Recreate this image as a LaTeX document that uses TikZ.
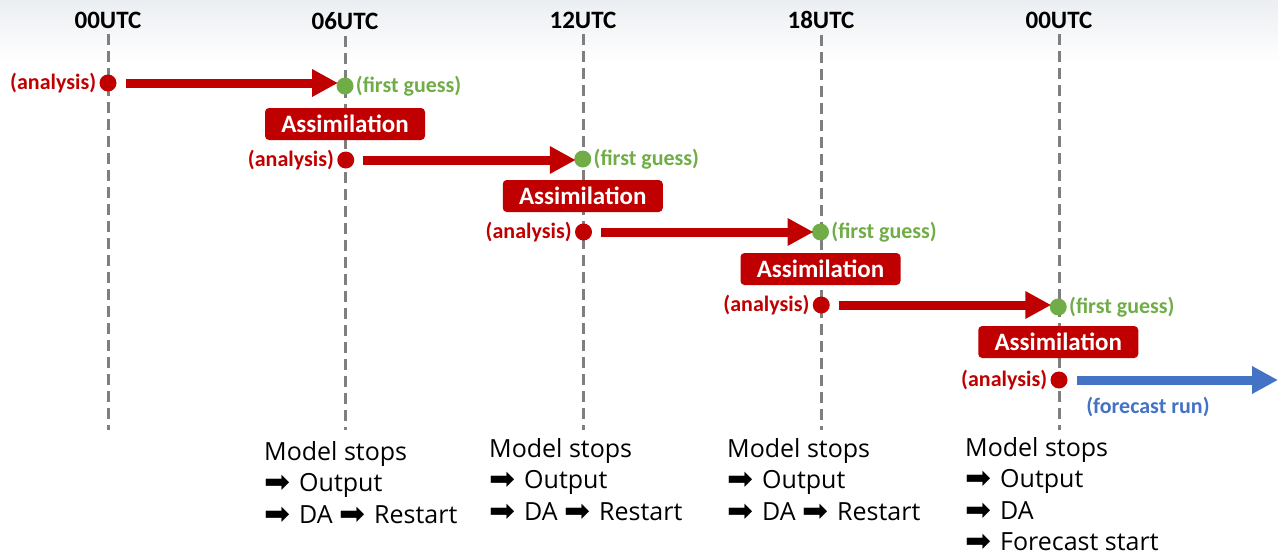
\documentclass[tikz,border=0pt]{standalone}
\usepackage{fontspec}
\setmainfont{Carlito}
\newfontfamily\notefont{Open Sans}
\newfontfamily\symfont{DejaVu Sans}
\usetikzlibrary{arrows.meta,positioning}

\definecolor{anared}{HTML}{C00000}
\definecolor{fggreen}{HTML}{70AD47}
\definecolor{fcblue}{HTML}{4472C4}
\definecolor{linegray}{HTML}{7F7F7F}
\definecolor{topshade}{HTML}{EBEEF2}

\newcommand{\thenarrow}{\raisebox{-1pt}{\symfont\fontsize{31}{31}\selectfont\char"27A1}\hspace{9pt}}

\begin{document}
\begin{tikzpicture}[x=1pt,y=-1pt,
    timeline/.style={draw=linegray,line width=3pt,dash pattern=on 11pt off 6pt},
    timelabel/.style={font=\bfseries\fontsize{25}{28}\selectfont,inner sep=1pt},
    anadot/.style={circle,fill=anared,minimum size=17pt,inner sep=0pt},
    fgdot/.style={circle,fill=fggreen,minimum size=17pt,inner sep=0pt},
    analabel/.style={text=anared,font=\bfseries\fontsize{22}{26}\selectfont,inner sep=1pt},
    fglabel/.style={text=fggreen,font=\bfseries\fontsize{22}{26}\selectfont,inner sep=1pt},
    assim/.style={fill=anared,rounded corners=4pt,text=white,minimum width=160pt,minimum height=32pt,
        font=\bfseries\fontsize{25}{28}\selectfont},
    cycle/.style={draw=anared,line width=9pt,-{Triangle[length=26pt,width=26pt]},shorten <=9pt,shorten >=7pt},
    notes/.style={anchor=north west,inner sep=0pt,align=left,font=\notefont\fontsize{25}{31.5}\selectfont}]

    \useasboundingbox (0,0) rectangle (1278,557);
    \shade[top color=topshade,bottom color=white] (0,0) rectangle (1278,62);

    % time axis
    \node[timelabel] (t0) at (108,20) {00UTC};
    \node[timelabel] (t1) at (345,21) {06UTC};
    \node[timelabel] (t2) at (583,20) {12UTC};
    \node[timelabel] (t3) at (821,20) {18UTC};
    \node[timelabel] (t4) at (1059,20) {00UTC};

    \coordinate (b0) at (108,430);
    \coordinate (b1) at (345,430);
    \coordinate (b2) at (583,430);
    \coordinate (b3) at (821,430);
    \coordinate (b4) at (1059,430);

    \draw[timeline] (t0.south) ++(0,5) -- (b0);
    \draw[timeline] (t1.south) ++(0,5) -- (b1);
    \draw[timeline] (t2.south) ++(0,5) -- (b2);
    \draw[timeline] (t3.south) ++(0,5) -- (b3);
    \draw[timeline] (t4.south) ++(0,5) -- (b4);

    \begin{scope}
     \node[anadot] (a) at (108,83) {};
     \node[analabel,left=2pt of a] (al) {(analysis)};
     \node[fgdot] (g) at (345,86) {};
     \node[fglabel,right=1pt of g] (gl) {(first guess)};
     \node[assim] (s) at (345,124) {Assimilation};

     \draw[cycle] (a) -- (g.center |- a);
    \end{scope}
    \begin{scope}[xshift=237.75pt,yshift=-77pt]
     \node[anadot] (a) at (108,83) {};
     \node[analabel,left=2pt of a] (al) {(analysis)};
     \node[fgdot] (g) at (345,82) {};
     \node[fglabel,right=1pt of g] (gl) {(first guess)};
     \node[assim] (s) at (345,119) {Assimilation};

     \draw[cycle] (a) -- (g.center |- a);
    \end{scope}
    \begin{scope}[xshift=475.5pt,yshift=-149pt]
     \node[anadot] (a) at (108,83) {};
     \node[analabel,left=2pt of a] (al) {(analysis)};
     \node[fgdot] (g) at (345,83) {};
     \node[fglabel,right=1pt of g] (gl) {(first guess)};
     \node[assim] (s) at (345,120) {Assimilation};

     \draw[cycle] (a) -- (g.center |- a);
    \end{scope}
    \begin{scope}[xshift=713.25pt,yshift=-222pt]
     \node[anadot] (a) at (108,83) {};
     \node[analabel,left=2pt of a] (al) {(analysis)};
     \node[fgdot] (g) at (345,85) {};
     \node[fglabel,right=1pt of g] (gl) {(first guess)};
     \node[assim] (s) at (345,120) {Assimilation};

     \draw[cycle] (a) -- (g.center |- a);
    \end{scope}
    \begin{scope}[xshift=951pt,yshift=-297pt]
     \node[anadot] (a) at (108,83) {};
     \node[analabel,left=2pt of a] (al) {(analysis)};
     \coordinate (f) at (327,83);
     \node[analabel,text=fcblue] (fl) at (197,110) {(forecast run)};

     \draw[cycle,draw=fcblue,shorten >=0pt] (a) -- (f);
    \end{scope}

    % what happens at each restart
    \node[notes] (n1) at (264,441) {Model stops\\\thenarrow Output\\\thenarrow DA \thenarrow Restart};
    \node[notes] (n2) at (489,438) {Model stops\\\thenarrow Output\\\thenarrow DA \thenarrow Restart};
    \node[notes] (n3) at (727,438) {Model stops\\\thenarrow Output\\\thenarrow DA \thenarrow Restart};
    \node[notes] (n4) at (965,437) {Model stops\\\thenarrow Output\\\thenarrow DA\\\thenarrow Forecast start};
\end{tikzpicture}
\end{document}
